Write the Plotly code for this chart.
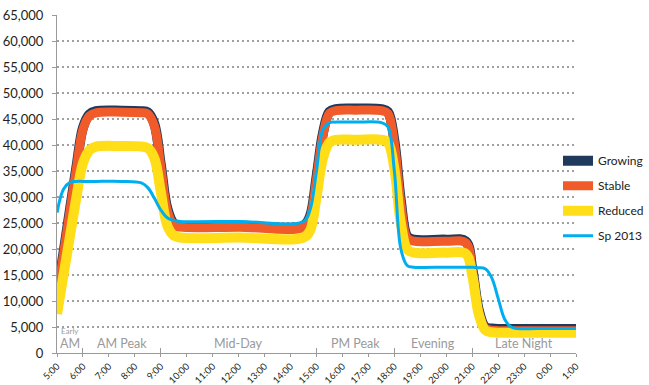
import plotly.graph_objects as go

# readings taken more densely around the ramps, sparser along the flat stretches
times = ["5:00", "5:15", "5:30", "5:45", "6:00", "6:15", "6:30", "7:30", "8:15", "8:30",
         "8:45", "9:00", "9:15", "9:30", "9:45", "12:00", "14:30", "14:45", "15:00", "15:15",
         "15:30", "15:45", "16:30", "17:30", "17:45", "18:00", "18:15", "18:30", "18:45", "20:00",
         "20:45", "21:00", "21:15", "21:30", "21:45", "22:00", "22:15", "22:30", "22:45", "23:30",
         "1:00"]

growing = [11000, 19300, 27600, 35800, 43300, 45900, 46500, 46600, 46500, 46300,
           44100, 36200, 27800, 24900, 24500, 24500, 24500, 26300, 33800, 42300,
           46400, 46900, 47000, 46900, 46400, 40800, 29300, 22400, 21800, 21800,
           21500, 16300, 8300, 5000, 4700, 4600, 4600, 4600, 4600, 4600,
           4600]

stable = [10700, 19000, 27300, 35500, 43000, 45600, 46200, 46300, 46200, 46000,
          43700, 35800, 27400, 24600, 24200, 24200, 24200, 26000, 33400, 41900,
          46100, 46600, 46700, 46600, 46100, 40300, 28800, 22100, 21500, 21500,
          21200, 16000, 8000, 4800, 4400, 4300, 4300, 4300, 4300, 4300,
          4300]

reduced = [7500, 15000, 22500, 30000, 36500, 39000, 39700, 39800, 39700, 39400,
           37500, 31000, 24500, 22600, 22200, 22200, 22200, 23500, 30000, 37500,
           40500, 41000, 41000, 41000, 40500, 35500, 25000, 19900, 19300, 19300,
           19100, 15000, 7500, 4400, 4000, 3900, 3900, 3900, 3900, 3900,
           3900]

sp_2013 = [27000, 31500, 32800, 33000, 33000, 33000, 33000, 33000, 32700, 31800,
           29800, 27500, 26000, 25500, 25300, 25300, 25300, 27500, 35000, 43000,
           44300, 44400, 44400, 44300, 43500, 35000, 20000, 16800, 16500, 16500,
           16500, 16500, 16400, 16200, 14500, 10500, 6500, 5000, 4700, 4700,
           4700]

tick_labels = ["5:00", "6:00", "7:00", "8:00", "9:00", "10:00", "11:00", "12:00", "13:00",
               "14:00", "15:00", "16:00", "17:00", "18:00", "19:00", "20:00", "21:00",
               "22:00", "23:00", "0:00", "1:00"]

periods = ["AM Peak", "Mid-Day", "PM Peak", "Evening", "Late Night"]
period_bounds = ["6:00", "9:00", "15:00", "18:00", "21:00", "1:00"]


def to_hours(label):
    hh, mm = label.split(":")
    h = int(hh) + int(mm) / 60
    return h + 24 if h < 5 else h


x = [to_hours(t) for t in times]
tick_vals = [to_hours(t) for t in tick_labels]
bounds = [to_hours(b) for b in period_bounds]

FONT = "Lato, 'Open Sans', sans-serif"
GRAY = "#9a9a9a"

series = [
    ("Growing", growing, "#1f3a5c", 10),
    ("Stable", stable, "#f15a29", 9),
    ("Reduced", reduced, "#ffdd17", 10),
    ("Sp 2013", sp_2013, "#00aeef", 3),
]

fig = go.Figure()
for name, vals, color, width in series:
    fig.add_trace(go.Scatter(
        x=x, y=vals, name=name, mode="lines", legendgroup=name,
        line=dict(color=color, width=width, shape="spline", smoothing=1.0),
        hoverinfo="skip",
    ))

# empty trace so the period-boundary axis gets drawn
fig.add_trace(go.Scatter(x=[], y=[], xaxis="x2", showlegend=False, hoverinfo="skip"))

# plot spans 57..576 px, legend sits in the strip to the right
x_domain = [0, 519 / 592]

fig.update_layout(
    width=649, height=385,
    margin=dict(l=57, r=0, t=15, b=32),
    plot_bgcolor="white", paper_bgcolor="white",
    font=dict(family=FONT, color="#231f20"),
    showlegend=True,
    legend=dict(x=1.0, xanchor="right", y=0.612, yanchor="top",
                font=dict(size=12, color="#222"), tracegroupgap=6,
                traceorder="grouped", itemwidth=30, bgcolor="rgba(0,0,0,0)"),
    xaxis=dict(domain=x_domain, range=[5, 25], tickvals=tick_vals, ticktext=tick_labels,
               tickangle=-45, tickfont=dict(size=9.5), ticks="outside", ticklen=3,
               tickcolor=GRAY, showgrid=False, showline=True, linecolor=GRAY,
               zeroline=False, automargin=False),
    xaxis2=dict(overlaying="x", range=[5, 25], tickvals=bounds, ticks="inside",
                ticklen=5, tickcolor=GRAY, showticklabels=False, showgrid=False,
                showline=False, zeroline=False, side="bottom", automargin=False),
    yaxis=dict(range=[0, 65000], dtick=5000, tickformat=",", tickfont=dict(size=13),
               ticks="outside", ticklen=4, tickcolor=GRAY, ticklabelstandoff=6,
               showgrid=True, gridcolor="#a0a0a0", gridwidth=2, griddash="2px,3px",
               showline=True, linecolor=GRAY, zeroline=False, automargin=False),
)

# period captions along the bottom of the plot
for name, lo, hi in zip(periods, bounds[:-1], bounds[1:]):
    fig.add_annotation(x=(lo + hi) / 2, y=0, yanchor="bottom", text=name,
                       showarrow=False, font=dict(size=12.5, color=GRAY))
fig.add_annotation(x=(x[0] + bounds[0]) / 2, y=0, yanchor="bottom", text="AM",
                   showarrow=False, font=dict(size=12.5, color=GRAY))
fig.add_annotation(x=(x[0] + bounds[0]) / 2, y=0, yanchor="bottom", yshift=15, text="Early",
                   showarrow=False, font=dict(size=8, color=GRAY))

# drop the browser's default 8px body margin so the figure sits flush in the window
fig.write_html("out.html", config={"displayModeBar": False},
               post_script="document.body.style.margin='0';")
